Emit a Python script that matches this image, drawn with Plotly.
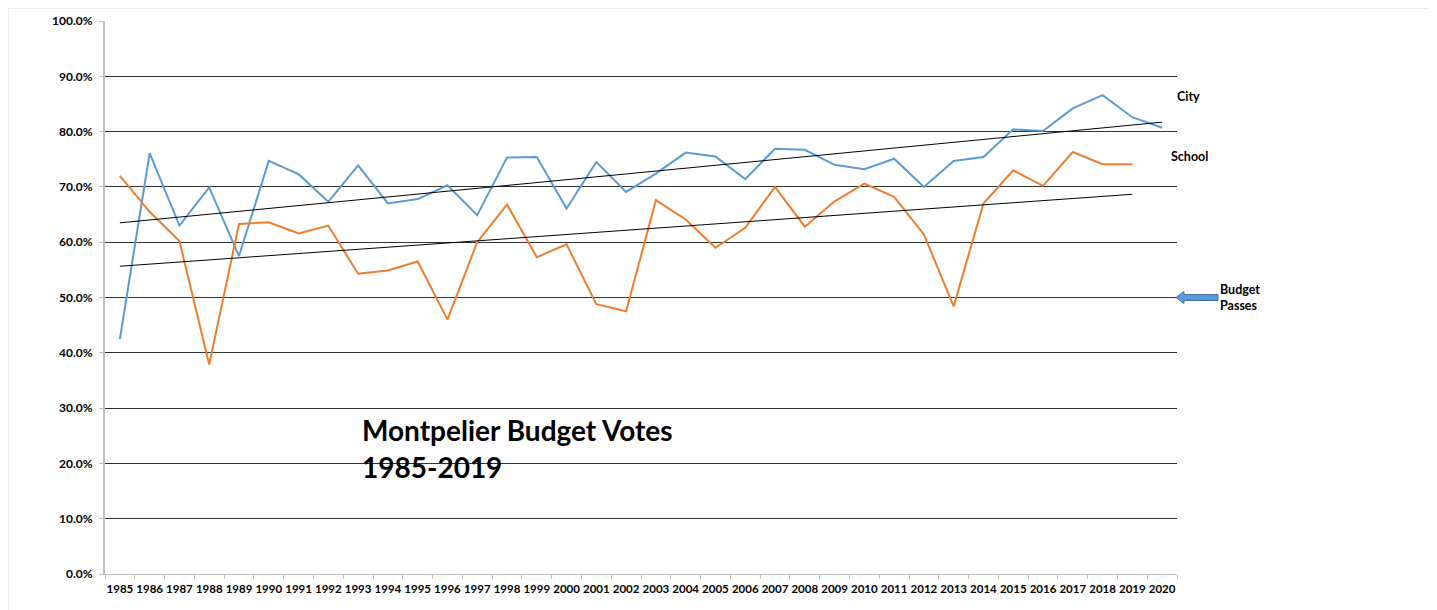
import numpy as np
import plotly.graph_objects as go

years = [str(y) for y in range(1985, 2021)]
city = [42.5, 76.1, 63.0, 69.9, 57.5, 74.7, 72.3, 67.3, 73.9, 67.0, 67.8, 70.3,
        64.9, 75.3, 75.4, 66.1, 74.5, 69.1, 72.4, 76.2, 75.5, 71.4, 76.9, 76.7,
        74.0, 73.2, 75.1, 70.0, 74.7, 75.4, 80.4, 80.1, 84.2, 86.6, 82.6, 80.7]
school = [72.0, 65.5, 60.2, 37.9, 63.3, 63.6, 61.6, 63.0, 54.3, 54.9, 56.5, 46.0,
          60.0, 66.8, 57.3, 59.6, 48.8, 47.5, 67.6, 64.1, 59.0, 62.6, 70.0, 62.8,
          67.4, 70.6, 68.2, 61.4, 48.4, 67.0, 73.0, 70.2, 76.3, 74.1, 74.1, None]

city_v = [v / 100 for v in city]
school_v = [None if v is None else v / 100 for v in school]

def trend(vals):
    idx = [i for i, v in enumerate(vals) if v is not None]
    ys = [vals[i] for i in idx]
    a, b = np.polyfit(idx, ys, 1)
    return [years[i] for i in idx], [a * i + b for i in idx]

FONT = "Lato"
BLUE = "#5B9BD5"
ORANGE = "#ED7D31"

fig = go.Figure()
fig.add_trace(go.Scatter(x=years, y=city_v, mode="lines", line=dict(color=BLUE, width=2), name="City"))
fig.add_trace(go.Scatter(x=years, y=school_v, mode="lines", line=dict(color=ORANGE, width=2), name="School"))
tx, ty = trend(city_v)
fig.add_trace(go.Scatter(x=tx, y=ty, mode="lines", line=dict(color="black", width=1)))
tx, ty = trend(school_v)
fig.add_trace(go.Scatter(x=tx, y=ty, mode="lines", line=dict(color="black", width=1)))

# page body has an 8px margin; plot area targeted at x 105..1177, y 21..574 on screen
fig.update_layout(
    width=1429, height=602,
    margin=dict(l=97, r=260, t=13, b=36, autoexpand=False),
    paper_bgcolor="white", plot_bgcolor="white",
    showlegend=False,
    font=dict(family=FONT, color="black"),
)
fig.update_xaxes(
    type="category", range=[-0.5, 35.5], automargin=False,
    showline=True, linecolor="#BFBFBF", linewidth=1,
    ticks="outside", tickson="boundaries", ticklen=4, tickcolor="#BFBFBF",
    tickfont=dict(family=FONT, size=11.5, color="black", weight="bold"),
    ticklabelstandoff=4,
    tickangle=0, showgrid=False,
)
fig.update_yaxes(
    range=[0, 1], dtick=0.1, tickformat=".1%", automargin=False,
    showline=True, linecolor="#BFBFBF", linewidth=2,
    ticks="outside", ticklen=4, tickcolor="#BFBFBF",
    tickfont=dict(family=FONT, size=12, color="black", weight="bold"),
    ticklabelstandoff=4,
    showgrid=True, gridcolor="#333333", gridwidth=1, zeroline=False,
)

def px_to_y(py):
    return (574 - py) / 553

def px_to_x(px):
    return (px - 105) / 1072

fig.add_annotation(x=px_to_x(360), xref="paper", y=px_to_y(430), yref="paper",
                   xanchor="left", yanchor="middle", align="left", showarrow=False,
                   text="<b>Montpelier Budget Votes</b>",
                   font=dict(family=FONT, size=28, color="black"))
fig.add_annotation(x=px_to_x(360), xref="paper", y=px_to_y(467), yref="paper",
                   xanchor="left", yanchor="middle", align="left", showarrow=False,
                   text="<b>1985-2019</b>",
                   font=dict(family=FONT, size=28, color="black"))
fig.add_annotation(x=px_to_x(1175), xref="paper", y=px_to_y(96), yref="paper",
                   xanchor="left", yanchor="middle", showarrow=False,
                   text="<b>City</b>", font=dict(family=FONT, size=12.5, color="black"))
fig.add_annotation(x=px_to_x(1169), xref="paper", y=px_to_y(156), yref="paper",
                   xanchor="left", yanchor="middle", showarrow=False,
                   text="<b>School</b>", font=dict(family=FONT, size=12.5, color="black"))
fig.add_annotation(x=px_to_x(1218), xref="paper", y=px_to_y(297), yref="paper",
                   xanchor="left", yanchor="middle", align="left", showarrow=False,
                   text="<b>Budget<br>Passes</b>", font=dict(family=FONT, size=12.5, color="black"))

# block arrow pointing at the 50% line
fig.add_shape(type="path", xref="paper", yref="y", xsizemode="pixel", ysizemode="pixel",
              xanchor=1.0, yanchor=0.5,
              path="M -1,0 L 7,6 L 7,3 L 41,3 L 41,-3 L 7,-3 L 7,-6 Z",
              fillcolor=BLUE, line=dict(color="#41719C", width=1))

# outer chart border
fig.add_shape(type="rect", xref="paper", yref="paper",
              x0=px_to_x(8), x1=px_to_x(1433),
              y0=px_to_y(640), y1=px_to_y(8),
              line=dict(color="#D9D9D9", width=1), fillcolor="rgba(0,0,0,0)", layer="below")

fig.write_html("out.html")
